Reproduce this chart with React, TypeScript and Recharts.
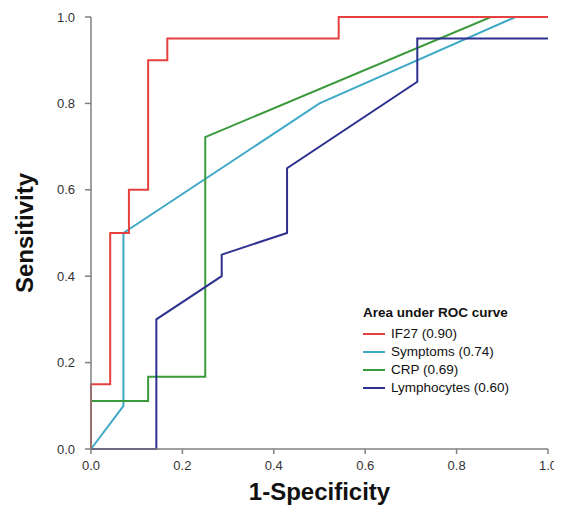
import { LineChart, Line, XAxis, YAxis, Legend, Label } from "recharts";

// ROC points as [1-specificity, sensitivity]
const if27 = [
  [0, 0], [0, 0.15], [0.042, 0.15], [0.042, 0.5], [0.083, 0.5], [0.083, 0.6],
  [0.125, 0.6], [0.125, 0.9], [0.167, 0.9], [0.167, 0.95], [0.542, 0.95],
  [0.542, 1], [1, 1],
];
const symptoms = [
  [0, 0], [0.071, 0.1], [0.071, 0.5], [0.5, 0.8], [0.929, 1], [1, 1],
];
const crp = [
  [0, 0], [0, 0.111], [0.125, 0.111], [0.125, 0.167], [0.25, 0.167],
  [0.25, 0.722], [0.875, 1], [1, 1],
];
const lymphocytes = [
  [0, 0], [0.143, 0], [0.143, 0.3], [0.286, 0.4], [0.286, 0.45], [0.429, 0.5],
  [0.429, 0.65], [0.714, 0.85], [0.714, 0.95], [1, 0.95],
];

const ticks = [0, 0.2, 0.4, 0.6, 0.8, 1.0];

const series = [
  { name: "IF27 (0.90)", color: "#e4413f", points: if27 },
  { name: "Symptoms (0.74)", color: "#3fa9c6", points: symptoms },
  { name: "CRP (0.69)", color: "#3a9a3c", points: crp },
  { name: "Lymphocytes (0.60)", color: "#2e3090", points: lymphocytes },
];

// draw order: cyan, green, navy, red on top
const drawOrder = [1, 2, 3, 0];

const toRows = (pts: number[][]) => pts.map(([x, y]) => ({ x, y }));

const FONT = "'Liberation Sans', Arial, sans-serif";

function RocLegend() {
  return (
    <div style={{ fontFamily: FONT, fontSize: 13.5, color: "#111", lineHeight: "18px" }}>
      <div style={{ fontWeight: "bold", marginBottom: 3 }}>Area under ROC curve</div>
      {series.map((s) => (
        <div key={s.name} style={{ display: "flex", alignItems: "center" }}>
          <span
            style={{
              display: "inline-block",
              width: 22,
              height: 2,
              background: s.color,
              marginRight: 6,
            }}
          />
          <span>{s.name}</span>
        </div>
      ))}
    </div>
  );
}

export default function App() {
  return (
    <LineChart
      width={562}
      height={505}
      margin={{ top: 9, right: 22, bottom: 0, left: 0 }}
      style={{ fontFamily: FONT }}
    >
      <XAxis
        type="number"
        dataKey="x"
        domain={[0, 1]}
        ticks={ticks}
        tickFormatter={(v: number) => v.toFixed(1)}
        height={64}
        stroke="#808080"
        strokeWidth={1.5}
        tickSize={5}
        tickMargin={7}
        tick={{ fill: "#333", fontSize: 13 }}
        allowDuplicatedCategory={false}
      >
        <Label
          value="1-Specificity"
          position="insideBottom"
          offset={13}
          style={{ fontSize: 24, fontWeight: "bold", fill: "#111" }}
        />
      </XAxis>
      <YAxis
        type="number"
        domain={[0, 1]}
        ticks={ticks}
        tickFormatter={(v: number) => v.toFixed(1)}
        width={83}
        stroke="#808080"
        strokeWidth={1.5}
        tickSize={6}
        tickMargin={10}
        tick={{ fill: "#333", fontSize: 13 }}
      >
        <Label
          value="Sensitivity"
          angle={-90}
          position="insideLeft"
          offset={16}
          style={{ textAnchor: "middle", fontSize: 24, fontWeight: "bold", fill: "#111" }}
        />
      </YAxis>
      <Legend
        layout="vertical"
        align="center"
        verticalAlign="middle"
        content={() => <RocLegend />}
        wrapperStyle={{ left: 355, top: 296, width: 180 }}
      />
      {drawOrder.map((i) => {
        const s = series[i];
        return (
          <Line
            key={s.name}
            name={s.name}
            data={toRows(s.points)}
            dataKey="y"
            type="linear"
            stroke={s.color}
            strokeWidth={2}
            dot={false}
            activeDot={false}
            isAnimationActive={false}
          />
        );
      })}
    </LineChart>
  );
}
